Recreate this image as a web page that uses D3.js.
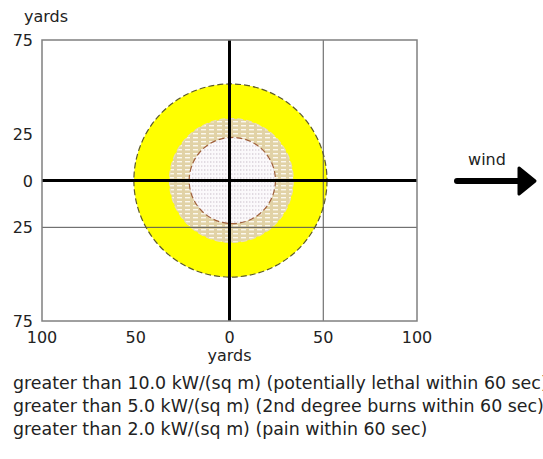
<!DOCTYPE html>
<html>
<head>
<meta charset="utf-8">
<script src="https://cdn.jsdelivr.net/npm/d3@7/dist/d3.min.js"></script>
<style>
  html, body { margin: 0; padding: 0; background: #fff; overflow: hidden; }
  svg { display: block; font-family: "DejaVu Sans", Verdana, sans-serif; }
</style>
</head>
<body>
<svg id="chart" width="543" height="459"></svg>
<script>
// Threat zone footprint (yards downwind / crosswind)
const xTicks = [-100, -50, 0, 50, 100];
const yTicks = [75, 25, 0, -25, -75];
const gridX = [50];
const gridY = [-25];

// Zones drawn from outermost to innermost
const zoneLabels = [
  "greater than 2.0 kW/(sq m) (pain within 60 sec)",
  "greater than 5.0 kW/(sq m) (2nd degree burns within 60 sec)",
  "greater than 10.0 kW/(sq m) (potentially lethal within 60 sec)"
];
const zoneRadius = [51.5, 33, 23];
const zoneCenterX = [0.5, 1, 1.5];
const zoneCenterY = [0, 0, 0];

// Legend order as listed under the chart
const legendLines = [
  "greater than 10.0 kW/(sq m) (potentially lethal within 60 sec)",
  "greater than 5.0 kW/(sq m) (2nd degree burns within 60 sec)",
  "greater than 2.0 kW/(sq m) (pain within 60 sec)"
];

const svg = d3.select("#chart");
const x = d3.scaleLinear().domain([-100, 100]).range([42, 417]);
const y = d3.scaleLinear().domain([-75, 75]).range([321, 40]);
const pxPerYard = (x(100) - x(-100)) / 200;

// Fill patterns for the two inner zones
const defs = svg.append("defs");
const pMid = defs.append("pattern")
  .attr("id", "midFill").attr("patternUnits", "userSpaceOnUse")
  .attr("width", 8).attr("height", 4);
pMid.append("rect").attr("width", 8).attr("height", 4).attr("fill", "#e1d2a6");
pMid.append("rect").attr("x", 1).attr("y", 1).attr("width", 5).attr("height", 1.4).attr("fill", "#fbf8ee");

const pIn = defs.append("pattern")
  .attr("id", "innerFill").attr("patternUnits", "userSpaceOnUse")
  .attr("width", 6).attr("height", 4);
pIn.append("rect").attr("width", 6).attr("height", 4).attr("fill", "#fbf9fb");
pIn.append("rect").attr("x", 0).attr("y", 1.5).attr("width", 1.4).attr("height", 1).attr("fill", "#c6bcc8");
pIn.append("rect").attr("x", 3).attr("y", 1.5).attr("width", 1.4).attr("height", 1).attr("fill", "#d2c6cf");

const zoneFill = ["#ffff00", "url(#midFill)", "url(#innerFill)"];
const zoneStroke = ["#5c5a2a", "#e8dcb8", "#a0603c"];

// Plot frame
svg.append("rect")
  .attr("x", x(-100)).attr("y", y(75))
  .attr("width", x(100) - x(-100)).attr("height", y(-75) - y(75))
  .attr("fill", "#fff");

// Zones
svg.append("g").selectAll("circle")
  .data(zoneRadius)
  .join("circle")
  .attr("cx", (d, i) => x(zoneCenterX[i]))
  .attr("cy", (d, i) => y(zoneCenterY[i]))
  .attr("r", d => d * pxPerYard)
  .attr("fill", (d, i) => zoneFill[i])
  .attr("stroke", (d, i) => zoneStroke[i])
  .attr("stroke-width", 1.2)
  .attr("stroke-dasharray", "6,3");

// Thin reference lines
svg.append("g").selectAll("line")
  .data(gridX)
  .join("line")
  .attr("x1", d => x(d)).attr("x2", d => x(d))
  .attr("y1", y(75)).attr("y2", y(-75))
  .attr("stroke", "#555").attr("stroke-width", 1);
svg.append("g").selectAll("line")
  .data(gridY)
  .join("line")
  .attr("x1", x(-100)).attr("x2", x(100))
  .attr("y1", d => y(d)).attr("y2", d => y(d))
  .attr("stroke", "#555").attr("stroke-width", 1);

// Heavy centre axes
svg.append("line")
  .attr("x1", x(-100)).attr("x2", x(100))
  .attr("y1", y(0)).attr("y2", y(0))
  .attr("stroke", "#000").attr("stroke-width", 3);
svg.append("line")
  .attr("x1", x(0)).attr("x2", x(0))
  .attr("y1", y(75)).attr("y2", y(-75))
  .attr("stroke", "#000").attr("stroke-width", 3);

// Frame outline
svg.append("rect")
  .attr("x", x(-100)).attr("y", y(75))
  .attr("width", x(100) - x(-100)).attr("height", y(-75) - y(75))
  .attr("fill", "none").attr("stroke", "#808080").attr("stroke-width", 1.5);

// Tick labels
const textColor = "#222";
svg.append("g").selectAll("text")
  .data(yTicks)
  .join("text")
  .attr("x", 33).attr("y", d => y(d) + 6)
  .attr("text-anchor", "end")
  .attr("font-size", 16).attr("fill", textColor)
  .text(d => Math.abs(d));

svg.append("g").selectAll("text")
  .data(xTicks)
  .join("text")
  .attr("x", d => x(d)).attr("y", 343)
  .attr("text-anchor", "middle")
  .attr("font-size", 16).attr("fill", textColor)
  .text(d => Math.abs(d));

// Axis titles
svg.append("text").attr("x", 46).attr("y", 22)
  .attr("text-anchor", "middle").attr("font-size", 16).attr("fill", textColor)
  .text("yards");
svg.append("text").attr("x", x(0)).attr("y", 361)
  .attr("text-anchor", "middle").attr("font-size", 16).attr("fill", textColor)
  .text("yards");

// Wind direction arrow
svg.append("text").attr("x", 487).attr("y", 165)
  .attr("text-anchor", "middle").attr("font-size", 16).attr("fill", textColor)
  .text("wind");
svg.append("line")
  .attr("x1", 457).attr("x2", 522).attr("y1", 181).attr("y2", 181)
  .attr("stroke", "#000").attr("stroke-width", 6).attr("stroke-linecap", "round");
svg.append("path")
  .attr("d", "M519,168 L535,181 L519,194 Z")
  .attr("fill", "#000").attr("stroke", "#000")
  .attr("stroke-width", 3).attr("stroke-linejoin", "round");

// Legend lines
svg.append("g").selectAll("text")
  .data(legendLines)
  .join("text")
  .attr("x", 13).attr("y", (d, i) => 389 + i * 23)
  .attr("font-size", 17.4).attr("fill", textColor)
  .text(d => d);
</script>
</body>
</html>
